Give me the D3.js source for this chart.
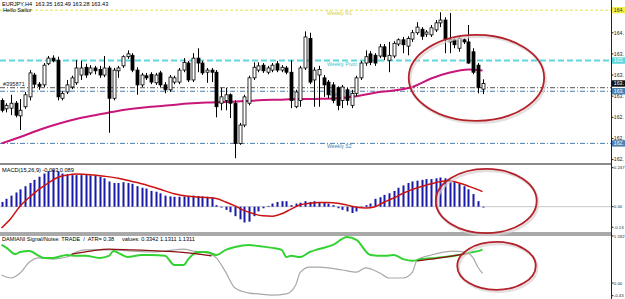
<!DOCTYPE html>
<html><head><meta charset="utf-8">
<script src="https://cdn.jsdelivr.net/npm/d3@7"></script>
<style>
html,body{margin:0;padding:0;background:#fff;}
svg{display:block;font-family:"Liberation Sans",Arial,sans-serif;}
</style></head><body>
<svg id="c" width="625" height="299"></svg>
<script>
// ---------- DATA ----------
// EURJPY H4 candles: [open, high, low, close]
const candles = [
[163.19,163.22,163.02,163.05],[163.07,163.15,163.02,163.12],[163.08,163.27,162.98,163.15],[163.15,163.18,162.95,162.98],
[162.97,163.21,162.77,163.05],[163.10,163.31,163.07,163.27],[163.24,163.62,163.19,163.58],[163.55,163.58,163.37,163.42],
[163.42,163.45,163.34,163.39],[163.41,163.72,163.38,163.69],[163.71,163.82,163.69,163.79],[163.79,163.83,163.73,163.75],
[163.76,163.81,163.19,163.24],[163.22,163.32,163.19,163.29],[163.31,163.48,163.28,163.41],[163.38,163.54,163.35,163.51],
[163.44,163.76,163.41,163.65],[163.55,163.75,163.48,163.65],[163.66,163.71,163.51,163.55],[163.58,163.69,163.55,163.65],
[163.65,163.68,163.56,163.61],[163.63,163.68,163.51,163.55],[163.55,163.82,163.52,163.65],[163.65,163.68,162.73,163.22],
[163.22,163.65,163.19,163.62],[163.61,163.68,163.51,163.65],[163.68,163.83,163.65,163.81],[163.81,163.90,163.78,163.85],
[163.83,163.86,163.59,163.62],[163.62,163.66,163.27,163.41],[163.41,163.58,163.38,163.55],[163.54,163.58,163.48,163.51],
[163.56,163.59,163.42,163.45],[163.44,163.58,163.41,163.55],[163.58,163.61,163.38,163.41],[163.41,163.45,163.29,163.34],
[163.34,163.55,163.31,163.52],[163.45,163.54,163.42,163.51],[163.45,163.65,163.42,163.62],[163.62,163.79,163.59,163.73],
[163.72,163.75,163.45,163.48],[163.48,163.86,163.45,163.79],[163.79,163.93,163.59,163.72],[163.72,163.75,163.55,163.58],
[163.59,163.65,163.44,163.62],[163.62,163.65,163.45,163.59],[163.59,163.62,162.95,163.10],[163.15,163.37,163.05,163.24],
[163.19,163.37,163.05,163.27],[163.27,163.29,162.94,163.15],[163.15,163.19,162.37,162.58],[162.58,162.87,162.56,162.84],
[162.84,163.27,162.81,163.24],[163.15,163.54,163.12,163.51],[163.51,163.73,163.48,163.66],[163.62,163.73,163.59,163.68],
[163.69,163.72,163.58,163.61],[163.59,163.68,163.56,163.65],[163.62,163.72,163.59,163.69],[163.71,163.75,163.59,163.62],
[163.62,163.69,163.59,163.66],[163.65,163.68,163.56,163.59],[163.59,163.76,163.08,163.19],[163.10,163.34,163.08,163.31],
[163.19,163.68,163.10,163.65],[163.65,164.17,163.62,164.09],[164.07,164.15,163.42,163.45],[163.48,163.66,163.10,163.62],
[163.55,163.68,163.10,163.63],[163.51,163.55,163.24,163.41],[163.45,163.48,163.22,163.27],[163.41,163.45,163.15,163.19],
[163.37,163.39,163.05,163.12],[163.19,163.41,163.08,163.38],[163.34,163.37,163.12,163.19],[163.12,163.34,163.08,163.29],
[163.29,163.54,163.25,163.51],[163.51,163.75,163.48,163.72],[163.72,163.90,163.68,163.81],[163.85,163.89,163.69,163.73],
[163.83,163.86,163.68,163.72],[163.82,163.99,163.79,163.95],[163.95,163.99,163.76,163.81],[163.76,164.02,163.59,163.83],
[163.82,164.03,163.79,164.00],[163.99,164.07,163.96,164.05],[164.05,164.09,163.86,163.98],[163.96,164.10,163.83,164.07],
[164.06,164.19,164.02,164.15],[164.15,164.30,164.12,164.23],[164.20,164.23,164.05,164.10],[164.13,164.19,164.09,164.16],
[164.12,164.26,164.09,164.22],[164.19,164.33,164.16,164.29],[164.29,164.44,164.23,164.33],[164.33,164.37,163.86,164.05],
[164.02,164.43,163.86,164.05],[164.05,164.07,163.93,163.98],[163.93,164.10,163.88,164.07],[164.05,164.07,163.99,164.02],
[164.02,164.26,163.71,163.72],[163.88,163.93,163.56,163.59],[163.69,163.72,163.29,163.37],[163.35,163.49,163.28,163.43]
];
// moving average: [bar index, value]
const maLine = [[0,162.58],[4,162.67],[8,162.77],[12,162.855],[16,162.925],[20,162.98],[24,163.03],[28,163.07],
[32,163.10],[36,163.12],[40,163.145],[44,163.16],[48,163.167],[52,163.18],[56,163.195],[60,163.20],[64,163.21],
[68,163.212],[72,163.22],[76,163.25],[80,163.30],[84,163.33],[88,163.38],[92,163.50],[96,163.585],[100,163.628],[103,163.614]];
const priceTicks = [164.45,164.15,163.85,163.55,163.25,162.95,162.65,162.35];
const levelNames = ["Weekly R1","Weekly Pivot","order","Weekly S1","Weekly S2"];
const levelPrices = [164.47,163.755,163.37,163.32,162.58];

// MACD histogram per bar
const macdHist = [0.03,0.05,0.07,0.09,0.11,0.13,0.15,0.17,0.19,0.21,0.225,0.235,0.225,0.21,0.205,0.2,0.2,0.2,0.2,0.198,
0.195,0.19,0.18,0.16,0.15,0.15,0.155,0.15,0.145,0.13,0.12,0.115,0.1,0.095,0.085,0.07,0.065,0.063,0.063,0.065,
0.068,0.07,0.068,0.065,0.063,0.06,0.01,-0.005,-0.02,-0.035,-0.06,-0.08,-0.1,-0.095,-0.06,-0.03,-0.01,0.005,0.02,0.03,
0.035,0.035,0.01,0.02,0.025,0.035,0.03,0.035,0.03,0.025,0.02,0.01,-0.01,-0.02,-0.03,-0.04,-0.03,-0.005,0.01,0.02,
0.05,0.06,0.075,0.085,0.1,0.12,0.135,0.15,0.16,0.165,0.17,0.175,0.175,0.18,0.185,0.18,0.17,0.155,0.145,0.13,
0.11,0.08,0.035,-0.003];
const macdSignal = [[0,-0.135],[2,-0.075],[4,0.005],[6,0.06],[8,0.11],[10,0.15],[12,0.185],[14,0.2],[16,0.207],[19,0.203],
[22,0.193],[25,0.18],[28,0.16],[31,0.138],[34,0.11],[37,0.082],[40,0.066],[43,0.06],[46,0.052],[48,0.03],[50,0.005],
[52,-0.025],[54,-0.045],[56,-0.058],[58,-0.06],[60,-0.045],[62,-0.015],[64,0.012],[66,0.022],[68,0.027],[70,0.027],
[72,0.022],[74,0.01],[76,-0.003],[78,-0.008],[80,0.0],[82,0.03],[84,0.055],[86,0.085],[88,0.11],[90,0.128],[92,0.145],
[94,0.16],[96,0.165],[98,0.15],[100,0.13],[102,0.108],[103,0.095]];
const macdTicks = [0.247,0.00,-0.13];

// Damiani lines: [bar index, value]
const damGreen = [[0,1.29],[1,1.20],[3,0.98],[4,1.05],[6,1.08],[8,0.92],[9,0.85],[11,0.85],[14,0.95],[16,0.92],[18,0.92],
[21,0.85],[23,0.92],[24,1.08],[25,1.02],[27,0.88],[30,0.95],[32,0.95],[35,0.92],[37,0.61],[39,0.61],[40,0.81],[42,1.05],
[44,1.05],[46,0.95],[48,1.12],[50,1.22],[53,1.29],[55,1.25],[58,1.19],[60,1.12],[61,0.88],[62,0.92],[64,0.88],[66,1.05],
[68,1.15],[71,1.29],[74,1.56],[76,1.46],[79,0.95],[82,0.92],[84,0.95],[86,0.81],[88,0.75],[90,0.81],[93,0.85],[97,0.92],
[100,1.02],[102,1.08],[103,1.13]];
const damGray = [[0,0.27],[2,0.17],[4,0.34],[6,0.71],[8,0.85],[11,0.81],[14,0.88],[16,1.05],[18,1.12],[21,1.12],[24,1.12],
[28,1.08],[32,1.05],[35,1.08],[39,1.15],[41,1.08],[44,1.02],[46,0.85],[48,0.37],[50,-0.17],[53,-0.34],[55,-0.37],[58,-0.41],
[61,-0.37],[63,-0.07],[64,0.37],[66,0.54],[68,0.54],[73,0.44],[76,0.37],[78,0.51],[81,0.34],[83,0.17],[86,0.17],[88,0.37],
[89,0.78],[92,0.95],[97,1.08],[100,1.0],[101,0.85],[102,0.54],[103,0.33]];
const damRedA = [[15,0.98],[19,1.08],[23,1.15],[28,1.12],[32,1.10],[36,1.07],[40,1.02],[45,0.92]];
const damRedB = [[89,0.75],[92,0.81],[95,0.88],[100,1.0]];
const damTicks = [1.592,0.00,-0.43];

// annotation ellipses: [centre bar, centre value, radius in bars, radius in value, panel]
const marks = [[101.7,163.51,14.5,0.61,"price"],[103.8,0.036,10.8,0.203,"macd"],[106,0.58,8.4,0.81,"dam"]];

// ---------- DRAW ----------
const svg = d3.select("#c");
const W = 625, axisX = 611;
const x = d3.scaleLinear().domain([0,103]).range([1.5,482.5]);
const yP = d3.scaleLinear().domain([162.35,164.45]).range([159.6,11.6]);
const yM = d3.scaleLinear().domain([0,0.247]).range([206.7,167.7]);
const yD = d3.scaleLinear().domain([0,1.592]).range([283,236]);
const panels = {price:yP, macd:yM, dam:yD};
const fs = 5.6;

// panel separators
svg.append("line").attr("x1",0).attr("x2",axisX).attr("y1",164).attr("y2",164).attr("stroke","#666").attr("stroke-width",1.5);
svg.append("line").attr("x1",0).attr("x2",axisX).attr("y1",233).attr("y2",233).attr("stroke","#555").attr("stroke-width",1);
svg.append("line").attr("x1",0).attr("x2",axisX).attr("y1",235).attr("y2",235).attr("stroke","#555").attr("stroke-width",1);

// level lines
const lvStyle = [
  {c:"#e6e04a", d:"3,2", w:1, lc:"#d8cf3a"},
  {c:"#5fd6dc", d:"6,3", w:2, lc:"#48c4cc"},
  {c:"#555555", d:"5,2,1,2", w:1, lc:"#333"},
  {c:"#4a7fb0", d:"5,2,1,2", w:1, lc:"#6a9fd0"},
  {c:"#4a7fb0", d:"5,2,1,2", w:1, lc:"#4a7fb0"}
];
levelPrices.forEach((p,i)=>{
  const s = lvStyle[i];
  svg.append("line").attr("x1",0).attr("x2",axisX).attr("y1",yP(p)).attr("y2",yP(p))
    .attr("stroke",s.c).attr("stroke-width",s.w).attr("stroke-dasharray",s.d);
  if (levelNames[i] !== "order") {
    svg.append("text").attr("x",327).attr("y",yP(p)+1).attr("dominant-baseline","hanging")
      .attr("font-size",5.2).attr("fill",s.lc).text(levelNames[i]);
  }
});
svg.append("text").attr("x",3).attr("y",yP(levelPrices[2])-1.5).attr("font-size",fs).attr("fill","#222").text("#395871");

// moving average
svg.append("path").datum(maLine).attr("fill","none").attr("stroke","#c8177a").attr("stroke-width",2)
  .attr("d", d3.line().x(d=>x(d[0])).y(d=>yP(d[1])).curve(d3.curveMonotoneX));

// candles
const cg = svg.append("g");
candles.forEach((c,i)=>{
  const [o,h,l,cl] = c;
  const cx = Math.round(x(i))+0.5;
  cg.append("line").attr("x1",cx).attr("x2",cx).attr("y1",yP(h)).attr("y2",yP(l)).attr("stroke","#000").attr("stroke-width",1);
  const top = yP(Math.max(o,cl)), bot = yP(Math.min(o,cl));
  cg.append("rect").attr("x",cx-1.5).attr("y",top).attr("width",3).attr("height",Math.max(1,bot-top))
    .attr("fill", cl>=o ? "#fff" : "#000").attr("stroke","#000").attr("stroke-width",0.8);
});

// MACD
svg.append("line").attr("x1",0).attr("x2",axisX).attr("y1",yM(0)).attr("y2",yM(0)).attr("stroke","#c8c8c8").attr("stroke-width",1);
macdHist.forEach((v,i)=>{
  const cx = Math.round(x(i));
  svg.append("rect").attr("x",cx-0.5).attr("width",2)
    .attr("y",Math.min(yM(v),yM(0))).attr("height",Math.max(0.8,Math.abs(yM(v)-yM(0))))
    .attr("fill","#1a1aa8");
});
svg.append("path").datum(macdSignal).attr("fill","none").attr("stroke","#cc1111").attr("stroke-width",1.5)
  .attr("d", d3.line().x(d=>x(d[0])).y(d=>yM(d[1])).curve(d3.curveMonotoneX));

// Damiani
const dl = d3.line().x(d=>x(d[0])).y(d=>yD(d[1])).curve(d3.curveMonotoneX);
svg.append("path").datum(damGray).attr("fill","none").attr("stroke","#a8a8a8").attr("stroke-width",1.2).attr("d",dl);
svg.append("path").datum(damGreen).attr("fill","none").attr("stroke","#33d233").attr("stroke-width",2).attr("d",dl);
[damRedA,damRedB].forEach(s=>svg.append("path").datum(s).attr("fill","none").attr("stroke","#8b1010").attr("stroke-width",1.3).attr("d",dl));

// headers
const T = (tx,ty,str,size)=>svg.append("text").attr("x",tx).attr("y",ty).attr("font-size",size||fs).attr("fill","#000")
  .style("white-space","pre").text(str);
T(2,5.5,"EURJPY,H4  163.35 163.49 163.28 163.43");
T(3,12,"Hello Sailor");
T(2,172,"MACD(15,26,9) -0.003 0.089");
T(2,241,"DAMIANI Signal/Noise: TRADE  /  ATR= 0.38     values: 0.3342 1.1311 1.1311");

// annotation ellipses
const eg = svg.append("g");
marks.forEach(m=>{
  const ys = panels[m[4]];
  const cx = x(m[0]), cy = ys(m[1]);
  const rx = x(m[0]+m[2])-cx, ry = Math.abs(ys(m[1]+m[3])-cy);
  eg.append("ellipse").attr("cx",cx+1.5).attr("cy",cy+2).attr("rx",rx).attr("ry",ry)
    .attr("fill","none").attr("stroke","#d8d0d0").attr("stroke-width",2.5).attr("opacity",0.7);
  eg.append("ellipse").attr("cx",cx).attr("cy",cy).attr("rx",rx).attr("ry",ry)
    .attr("fill","none").attr("stroke","#b3222a").attr("stroke-width",1.8);
});

// right axis (labels shown as far as the window edge allows)
svg.append("rect").attr("x",axisX).attr("y",0).attr("width",W-axisX).attr("height",299).attr("fill","#fff");
svg.append("line").attr("x1",axisX+0.5).attr("x2",axisX+0.5).attr("y1",0).attr("y2",299).attr("stroke","#222").attr("stroke-width",1);
const axT = (ys,v,str,size)=>{
  svg.append("line").attr("x1",axisX).attr("x2",axisX+2.5).attr("y1",ys(v)).attr("y2",ys(v)).attr("stroke","#222");
  svg.append("text").attr("x",axisX+2.8).attr("y",ys(v)).attr("dy","0.35em").attr("font-size",size).attr("fill","#222").text(str);
};
const shortP = v=>v.toFixed(2).slice(0,4);
priceTicks.forEach(v=>axT(yP,v,shortP(v),5.2));
macdTicks.forEach(v=>axT(yM,v,v===0?"0.00":String(v),4.3));
damTicks.forEach(v=>axT(yD,v,v===0?"0.00":String(v),4.3));
// highlighted price labels
const boxes = [[levelPrices[0],"#f3f04a","#333"],[levelPrices[1],"#5fd6dc","#fff"],[candles[candles.length-1][3],"#111","#fff"],
  [levelPrices[3],"#4a7fb0","#fff"],[levelPrices[4],"#4a7fb0","#fff"]];
boxes.forEach(b=>{
  const yy = yP(b[0]);
  svg.append("rect").attr("x",axisX+1).attr("y",yy-3.2).attr("width",W-axisX).attr("height",6.4).attr("fill",b[1]);
  svg.append("text").attr("x",axisX+2.8).attr("y",yy).attr("dy","0.35em").attr("font-size",5.2).attr("fill",b[2]).text(shortP(b[0]));
});
</script>
</body></html>
